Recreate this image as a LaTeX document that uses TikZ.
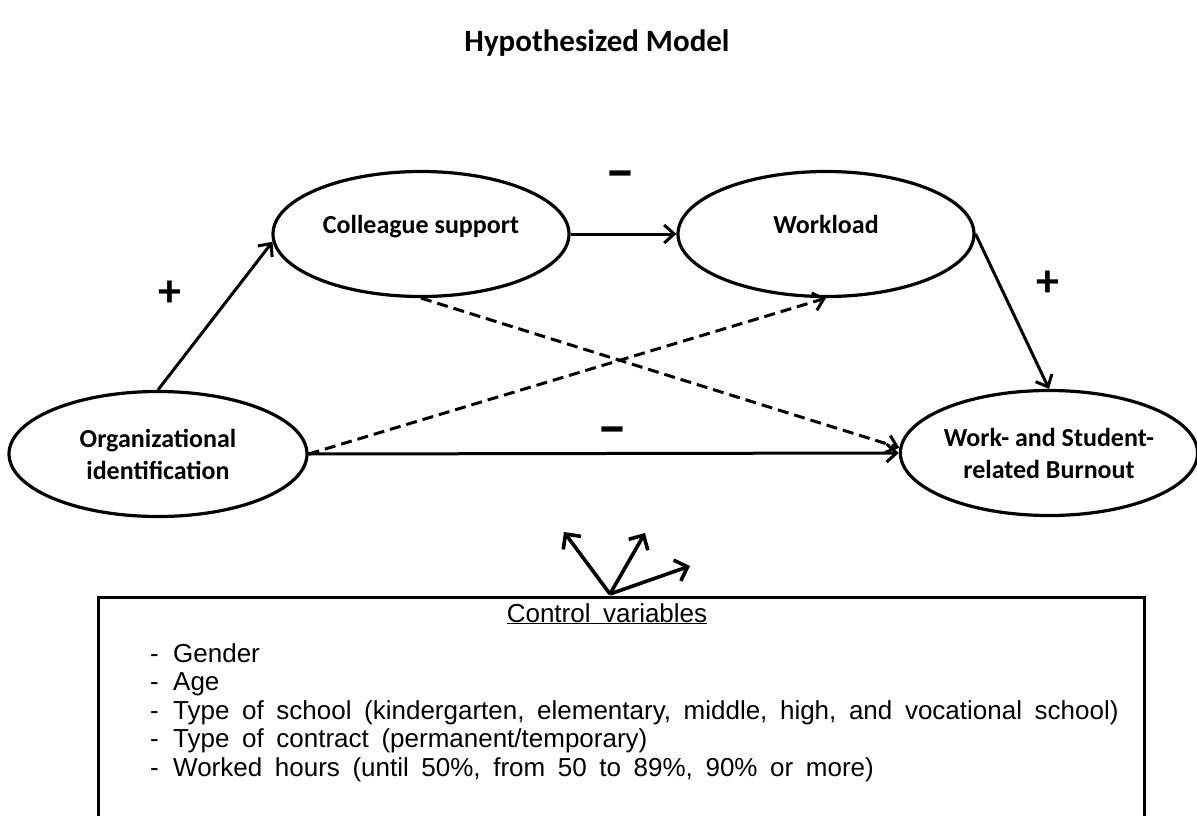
\documentclass[tikz,border=0pt]{standalone}
\usepackage{fontspec}
\setmainfont{Liberation Sans}
\newfontfamily\carlito{Carlito}
\usetikzlibrary{arrows.meta,shapes.geometric}
\newcommand\wsp{\spaceskip=12.6pt\relax}
\begin{document}
\begin{tikzpicture}[x=1pt,y=-1pt,
  ell/.style={draw, ellipse, line width=3.2pt, inner sep=0pt, minimum width=296pt, minimum height=125pt, align=center, font=\carlito\bfseries\fontsize{26}{32}\selectfont},
  one/.style={text height=10pt, text depth=12pt},
  arr/.style={line width=3pt, -{Straight Barb[length=10pt,width=18pt]}},
  darr/.style={arr, dash pattern=on 11pt off 6pt},
  sign/.style={font=\carlito\bfseries\fontsize{46}{48}\selectfont, inner sep=0pt},
  minus/.style={font=\carlito\bfseries\fontsize{60}{60}\selectfont, inner sep=0pt},
  item/.style={anchor=base west, font=\fontsize{26}{28}\selectfont, inner sep=0pt},
  src/.style={line width=3.6pt, -{Straight Barb[length=11pt,width=22pt]}}
]
\fill[white] (0,0) rectangle (1197,816);
\useasboundingbox (0,0) rectangle (1197,816);

\node[font=\carlito\bfseries\fontsize{31}{36}\selectfont, anchor=base] (title) at (597,52) {Hypothesized Model};

\node[ell, one] (cs) at (421,234) {Colleague support};
\node[ell, one] (wl) at (826,234) {Workload};
\node[ell, minimum width=298pt] (oi) at (158,454) {Organizational\\identification};
\node[ell, minimum width=290pt] (bo) at (1049,453) {Work- and Student-\\related Burnout};

\draw[arr] (oi.north) -- (cs.183);
\draw[arr] (cs.east) -- (wl.west);
\draw[arr] (wl.east) -- (bo.north);
\draw[arr] (oi.east) -- (bo.west);
\draw[darr] (cs.south) -- (bo.178);
\draw[darr] (oi.east) -- (wl.south);

\node[sign] (p1) at (170,294) {+};
\node[minus] (m1) at (620,181) {–};
\node[sign] (p2) at (1048,284) {+};
\node[minus] (m2) at (612,437) {–};

\node[draw, line width=3pt, anchor=north west, minimum width=1046pt, minimum height=260pt, inner sep=0pt] (cv) at (97,596) {};
\coordinate (s0) at (610,594);
\coordinate (t1) at (564,532);
\coordinate (t2) at (645,533);
\coordinate (t3) at (690,566);
\draw[src] (s0) -- (t1);
\draw[src] (s0) -- (t2);
\draw[src] (s0) -- (t3);

\node[anchor=base, font=\fontsize{26}{28}\selectfont, inner sep=0pt] (cvt) at (607,622) {\wsp\underline{Control variables}};
\node[item] (i1) at (150,662) {\wsp\makebox[23pt][l]{-}Gender};
\node[item] (i2) at (150,690.5) {\wsp\makebox[23pt][l]{-}Age};
\node[item] (i3) at (150,719) {\wsp\makebox[23pt][l]{-}Type of school (kindergarten, elementary, middle, high, and vocational school)};
\node[item] (i4) at (150,747.5) {\wsp\makebox[23pt][l]{-}Type of contract (permanent/temporary)};
\node[item] (i5) at (150,776) {\wsp\makebox[23pt][l]{-}Worked hours (until 50\%, from 50 to 89\%, 90\% or more)};
\end{tikzpicture}
\end{document}
